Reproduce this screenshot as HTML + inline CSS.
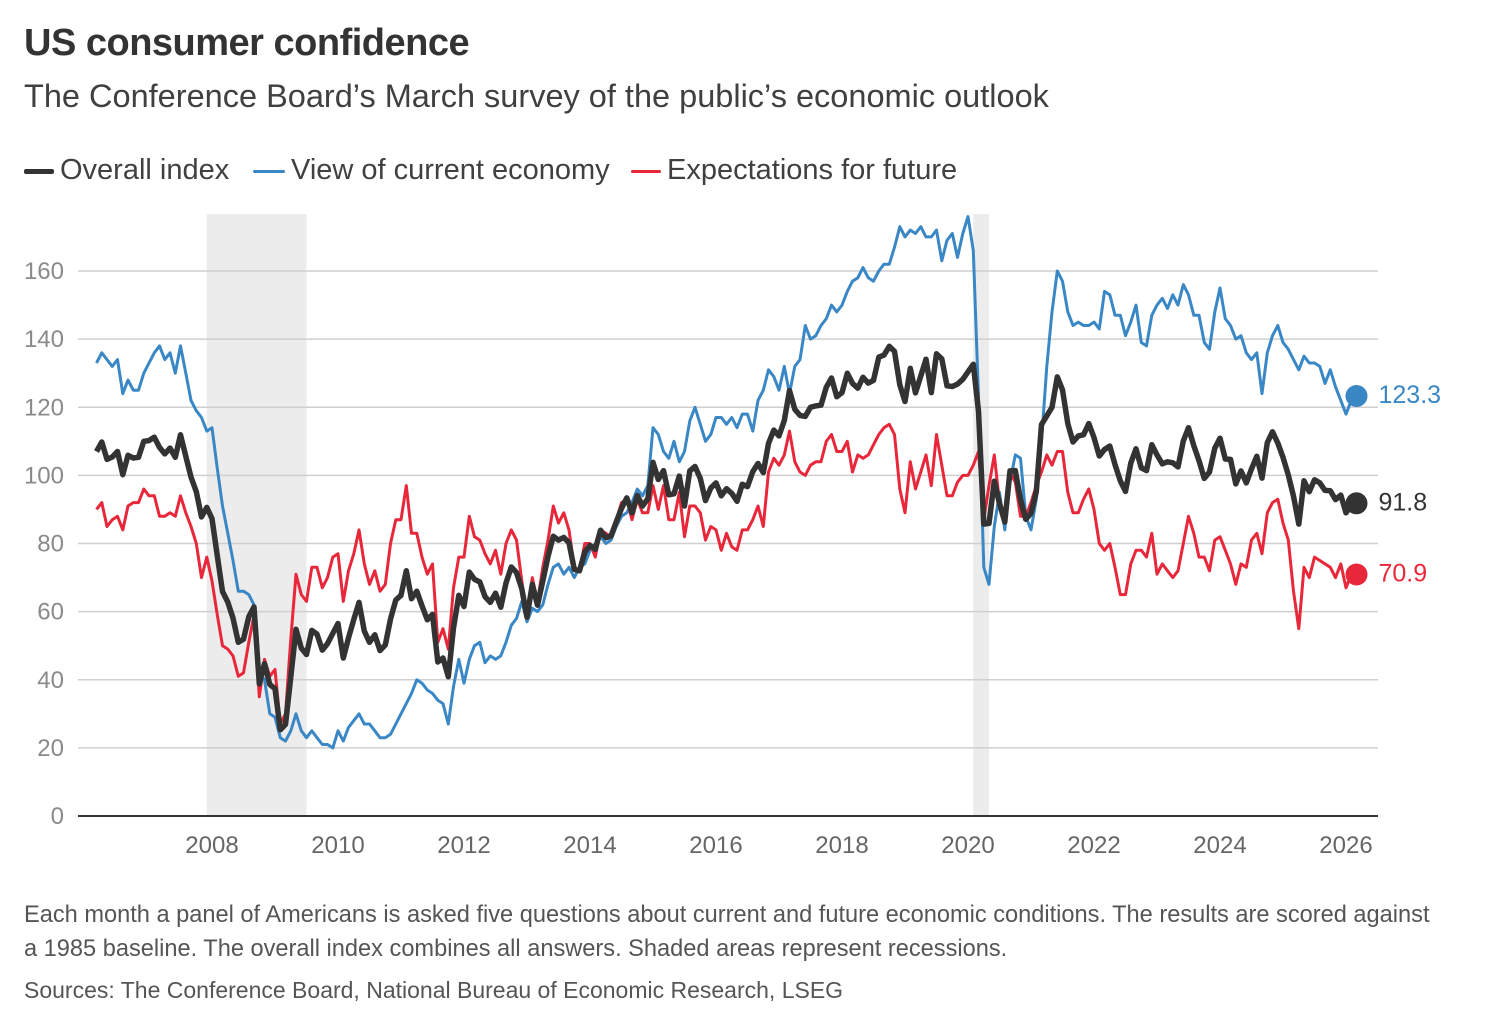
<!DOCTYPE html>
<html><head><meta charset="utf-8">
<style>
body{margin:0;background:#fff;width:1494px;height:1024px;overflow:hidden;font-family:"Liberation Sans",sans-serif;color:#333}
.t{position:absolute;left:24px;top:22px;font-size:38px;font-weight:bold;color:#333;letter-spacing:-0.5px}
.s{position:absolute;left:24px;top:78px;font-size:32.5px;color:#404040}
.lg{position:absolute;top:154px;font-size:29px;color:#404040;white-space:nowrap}
.lg span.sw{display:inline-block;width:28px;height:4px;vertical-align:middle;margin-right:6px;border-radius:2px}
.n{position:absolute;left:24px;color:#555;line-height:34px;white-space:nowrap}
</style></head><body>
<div class="t">US consumer confidence</div>
<div class="s">The Conference Board’s March survey of the public’s economic outlook</div>
<div class="lg" style="left:24px"><span class="sw" style="background:#333;height:5px;width:30px"></span>Overall index</div>
<div class="lg" style="left:253px"><span class="sw" style="background:#3a87c6;height:3px;width:32px"></span>View of current economy</div>
<div class="lg" style="left:631px"><span class="sw" style="background:#e8283a;height:3px;width:30px"></span>Expectations for future</div>
<svg id="chart" width="1494" height="1024" style="position:absolute;left:0;top:0"></svg>
<div class="n" style="top:898px;font-size:23.6px">Each month a panel of Americans is asked five questions about current and future economic conditions. The results are scored against<br>a 1985 baseline. The overall index combines all answers. Shaded areas represent recessions.</div>
<div class="n" style="top:973px;font-size:23px">Sources: The Conference Board, National Bureau of Economic Research, LSEG</div>
<script>
const startYear=2006+2/12;
const yTicks=[0,20,40,60,80,100,120,140,160];
const xTicks=[2008,2010,2012,2014,2016,2018,2020,2022,2024,2026];
const recessions=[[2007+11/12,2009.5],[2020+1/12,2020+4/12]];
const overall=[107,109.8,104.7,105.4,107,100.2,105.9,105.1,105.3,110,
110.2,111.2,108.2,106.3,108,105.3,111.9,105.6,99.5,95.2,87.8,90.6,
87.3,76.4,65.9,62.8,58.1,51,51.9,58.5,61.4,38.8,44.7,38.6,
37.4,25.3,26.9,40.8,54.8,49.3,47.4,54.5,53.4,48.7,50.6,53.6,
56.5,46.4,52.3,57.7,62.7,54.3,51,53.2,48.6,50.2,57.8,63.4,
64.8,72,63.8,66,61.7,57.6,59.2,45.2,46.4,40.9,55.2,64.8,
61.5,71.6,69.5,68.7,64.4,62.7,65.4,61.3,68.4,73.1,71.5,66.7,
58.4,68,61.9,69,76.2,82.1,81,81.8,80.2,72.4,72,77.5,
79.4,78.3,83.9,81.7,82.2,86.4,90.3,93.4,89,94.1,91,93.1,
103.8,98.8,101.4,94.3,94.6,99.8,91,101.3,102.6,99.1,92.6,96.3,
97.8,94,96.1,94.7,92.4,97.4,96.7,101.1,103.5,100.8,109.4,113.3,
111.6,116.1,124.9,119.4,117.6,117.3,120,120.4,120.6,125.9,128.6,123.1,
124.3,130,127,125.6,128.8,127.1,127.9,134.7,135.3,137.9,136.4,126.6,
121.7,131.4,124.2,129.2,134.1,124.3,135.7,134.2,126.3,126.1,126.8,128.2,
130.4,132.6,118.8,85.7,85.9,98.3,91.7,86.3,101.3,101.4,92.9,87.1,
88.9,95.2,114.9,117.5,120,128.9,125.1,115.2,109.8,111.6,111.9,115.2,
111.1,105.7,107.6,108.6,103.2,98.4,95.3,103.6,107.8,102.2,101.4,109,
106,103.4,104,103.7,102.5,110.1,114,108.7,104.3,99.1,101,108,
110.9,104.8,104.7,97.5,101.3,97.8,101.9,105.6,99.2,109.6,112.8,109.5,
105.3,100.1,93.9,85.7,98.4,95.2,98.7,97.8,95.6,95.5,92.9,94.2,
89,91.2,91.8];
const current=[133,136,134,132,134,124,128,125,125,130,
133,136,138,134,136,130,138,130,122,119,117,113,
114,102,91,83,75,66,66,65,62,42,40,30,
29,23,22,25,30,25,23,25,23,21,21,20,
25,22,26,28,30,27,27,25,23,23,24,27,
30,33,36,40,39,37,36,34,33,27,38,46,
39,46,50,51,45,47,46,47,51,56,58,63,
57,61,60,62,68,73,74,71,73,70,73,74,
78,80,82,80,81,85,88,89,92,96,94,97,
114,112,107,105,110,104,107,116,120,115,110,112,
117,117,115,117,114,118,118,113,122,125,131,129,
125,132,124,132,134,144,140,141,144,146,150,148,
150,154,157,158,161,158,157,160,162,162,167,173,
170,172,171,173,170,170,172,163,169,171,164,171,
176,166,123,73,68,85,95,84,98,106,105,88,
84,93,110,132,148,160,157,148,144,145,144,144,
145,143,154,153,147,147,141,145,150,139,138,147,
150,152,149,153,150,156,153,147,147,139,137,148,
155,146,144,140,141,136,134,136,124,136,141,144,
139,137,134,131,135,133,133,132,127,131,126,122,
118,122,123.3];
const expect=[90,92,85,87,88,84,91,92,92,96,
94,94,88,88,89,88,94,89,85,80,70,76,
69,59,50,49,47,41,42,51,59,35,46,41,
43,27,30,52,71,65,63,73,73,67,70,76,
77,63,72,77,84,74,68,72,66,68,80,87,
87,97,83,83,76,71,74,51,55,49,67,76,
76,88,82,81,77,74,78,71,80,84,81,69,
58,70,63,73,81,91,86,89,84,73,72,80,
80,76,84,83,82,87,92,93,87,93,89,89,
97,90,97,87,87,95,82,91,91,89,81,85,
84,78,83,79,78,84,84,87,91,85,101,105,
103,106,113,104,101,100,103,104,104,110,112,107,
107,110,101,106,105,106,109,112,114,115,112,96,
89,104,96,101,106,97,112,103,94,94,98,100,
100,103,107,87,97,106,92,86,101,98,88,88,
92,97,101,106,103,107,107,95,89,89,93,96,
90,80,78,80,73,65,65,74,78,78,76,83,
71,74,72,70,72,80,88,83,76,76,72,81,
82,78,74,68,74,73,81,83,77,89,92,93,
86,81,66,55,73,70,76,75,74,73,70,74,
67,71,70.9];
const svg=document.getElementById('chart');
const NS='http://www.w3.org/2000/svg';
const X=t=>212+(t-2008)*63;
const Y=v=>816-v*545/160;
const L=78,R=1378;
function mk(tag,attrs,parent){const e=document.createElementNS(NS,tag);for(const k in attrs)e.setAttribute(k,attrs[k]);(parent||svg).appendChild(e);return e;}
recessions.forEach(r=>{
 const e=mk('rect',{x:X(r[0]),y:214,width:X(r[1])-X(r[0]),height:816-214,fill:'#ececec'});
 
 
});
yTicks.forEach(v=>{
 if(v>0){const g=mk('line',{x1:L,x2:R,y1:Y(v),y2:Y(v),stroke:'#cfcfcf','stroke-width':1.5});
 
 }
 const t=mk('text',{x:64,y:Y(v)+8,'text-anchor':'end','font-size':24,fill:'#8a8a8a','font-family':'Liberation Sans'});
 t.textContent=v;
 
 
});
xTicks.forEach(v=>{
 const t=mk('text',{x:X(v),y:853,'text-anchor':'middle','font-size':24,fill:'#666','font-family':'Liberation Sans'});
 t.textContent=v;
 
 
});
const base=mk('line',{x1:L,x2:R,y1:816,y2:816,stroke:'#333','stroke-width':2});


function series(arr,color,w,name,lbl){
 const d=arr.map((v,i)=>(i?'L':'M')+X(startYear+i/12).toFixed(1)+','+Y(v).toFixed(1)).join('');
 const p=mk('path',{d:d,fill:'none',stroke:color,'stroke-width':w,'stroke-linejoin':'round'});
 
 
 const n=arr.length-1,cx=X(startYear+n/12),cy=Y(arr[n]);
 const c=mk('circle',{cx:cx,cy:cy,r:11,fill:color});
 
 
 const t=mk('text',{x:cx+22,y:cy+7,'font-size':25,fill:lbl,'font-family':'Liberation Sans'});
 t.textContent=arr[n];
 
 
}
series(current,'#3a87c6',3,'current','#3a87c6');
series(expect,'#e8283a',3,'expectations','#e8283a');
series(overall,'#333',5.5,'overall','#333');
</script>
</body></html>
